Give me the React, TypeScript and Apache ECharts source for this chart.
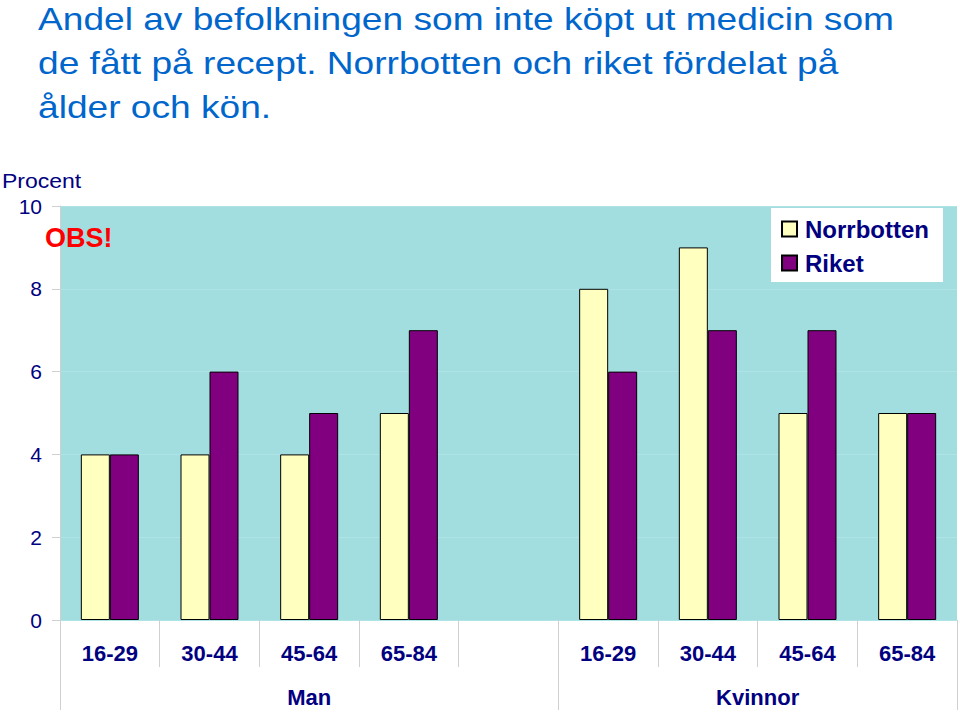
import React, { useEffect, useRef } from "react";
import * as echarts from "echarts";

const titleText =
  "Andel av befolkningen som inte köpt ut medicin som\nde fått på recept. Norrbotten och riket fördelat på\nålder och kön.";
const ageLabels = ["16-29", "30-44", "45-64", "65-84", "", "16-29", "30-44", "45-64", "65-84"];
const norrbotten = [4, 4, 4, 5, "-", 8, 9, 5, 5];
const riket = [4, 6, 5, 7, "-", 6, 7, 7, 5];
const groupNames = ["Man", "Kvinnor"];
const groupCenters = [2.5, 7];
const groupBounds = [0, 5, 9];
const yTicks = { min: 0, max: 10, interval: 2 };

const NAVY = "#000080";
const FONT = "Arial, 'Liberation Sans', Helvetica, sans-serif";

export default function App() {
  const ref = useRef<HTMLDivElement>(null);
  useEffect(() => {
    if (!ref.current) return;
    const chart = echarts.init(ref.current, null, { renderer: "svg" });
    chart.setOption({
      animation: false,
      backgroundColor: "#ffffff",
      textStyle: { fontFamily: FONT },
      graphic: [
        {
          type: "text",
          x: 38,
          y: -3,
          scaleX: 1.16,
          style: {
            text: titleText,
            fill: "#0066CC",
            fontSize: 32,
            lineHeight: 44,
            fontFamily: FONT,
            verticalAlign: "top",
          },
        },
        {
          type: "text",
          x: 2,
          y: 171,
          scaleX: 1.15,
          style: { text: "Procent", fill: NAVY, fontSize: 20, fontFamily: FONT, verticalAlign: "top" },
        },
        {
          type: "text",
          x: 45,
          y: 224,
          z: 100,
          style: { text: "OBS!", fill: "#FF0000", fontSize: 27, fontWeight: "bold", fontFamily: FONT, verticalAlign: "top" },
        },
      ],
      legend: {
        orient: "vertical",
        right: 17,
        top: 208,
        backgroundColor: "#ffffff",
        padding: [9, 14, 7, 10],
        itemWidth: 15,
        itemHeight: 15,
        itemGap: 10,
        icon: "rect",
        textStyle: { color: NAVY, fontSize: 24, fontWeight: "bold", fontFamily: FONT, padding: [0, 0, 0, 3] },
        data: ["Norrbotten", "Riket"],
      },
      grid: { left: 60, right: 3, top: 206, bottom: 96, backgroundColor: "#A2DEE0", show: true, borderWidth: 0 },
      xAxis: [
        {
          type: "category",
          data: ageLabels,
          position: "bottom",
          axisLine: { show: false },
          axisTick: { show: true, interval: 0, length: 47, lineStyle: { color: "#d0d0d0" } },
          axisLabel: {
            interval: 0,
            margin: 22,
            color: NAVY,
            fontSize: 22,
            fontWeight: "bold",
            fontFamily: FONT,
          },
        },
        {
          type: "value",
          min: 0,
          max: 9,
          position: "bottom",
          axisLine: { show: false },
          splitLine: { show: false },
          axisTick: { show: true, length: 90, customValues: groupBounds, lineStyle: { color: "#d0d0d0" } },
          axisLabel: {
            customValues: groupCenters,
            margin: 66,
            color: NAVY,
            fontSize: 22,
            fontWeight: "bold",
            fontFamily: FONT,
            formatter: (v: number) => groupNames[groupCenters.indexOf(v)] ?? "",
          },
        },
      ],
      yAxis: {
        type: "value",
        min: yTicks.min,
        max: yTicks.max,
        interval: yTicks.interval,
        axisLine: { show: true, lineStyle: { color: "#d0d0d0" } },
        axisTick: { show: true, length: 8, lineStyle: { color: "#d0d0d0" } },
        splitLine: { show: true, lineStyle: { color: "#AEE4E6", width: 1 } },
        axisLabel: { color: NAVY, fontSize: 21, margin: 18, fontFamily: FONT },
      },
      series: [
        {
          name: "Norrbotten",
          type: "bar",
          xAxisIndex: 0,
          data: norrbotten,
          barWidth: 29,
          barGap: "0%",
          itemStyle: { color: "#FFFFC0", borderColor: "#000000", borderWidth: 1 },
        },
        {
          name: "Riket",
          type: "bar",
          xAxisIndex: 0,
          data: riket,
          barWidth: 29,
          barGap: "0%",
          itemStyle: { color: "#800080", borderColor: "#000000", borderWidth: 1 },
        },
      ],
    });
    return () => chart.dispose();
  }, []);
  return <div ref={ref} style={{ width: 960, height: 716, position: "absolute", left: 0, top: 0 }} />;
}
